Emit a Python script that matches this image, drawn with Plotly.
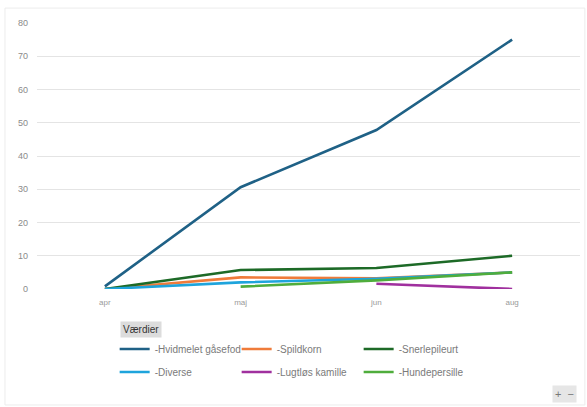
import plotly.graph_objects as go

months = ["apr", "maj", "jun", "aug"]
hvidmelet = [0.8, 30.6, 47.8, 75.0]
spildkorn = [0.0, 3.5, 3.2, 5.0]
snerlepileurt = [0.0, 5.7, 6.3, 10.0]
diverse = [0.0, 2.0, 3.1, 5.0]
lugtlos = [None, None, 1.6, 0.0]
hundepersille = [None, 0.7, 2.6, 5.0]

series = [
    ("-Hvidmelet gåsefod", hvidmelet, "#1f6186", "legend"),
    ("-Spildkorn", spildkorn, "#ef7b3a", "legend"),
    ("-Snerlepileurt", snerlepileurt, "#1d6a27", "legend"),
    ("-Diverse", diverse, "#1ea4dc", "legend2"),
    ("-Lugtløs kamille", lugtlos, "#a0309e", "legend2"),
    ("-Hundepersille", hundepersille, "#4fad3c", "legend2"),
]

fig = go.Figure()
for name, vals, col, lg in series:
    fig.add_trace(go.Scatter(x=months, y=vals, name=name, mode="lines",
                             line=dict(color=col, width=2.6), connectgaps=False,
                             legend=lg))

font = "Liberation Sans"
leg_common = dict(orientation="h", xanchor="left", yanchor="middle",
                  entrywidth=77, entrywidthmode="pixels",
                  font=dict(family=font, size=10, color="#7a7a7a"),
                  itemwidth=30, bgcolor="rgba(0,0,0,0)", borderwidth=0)
fig.update_layout(
    width=587, height=407,
    margin=dict(l=37, r=7, t=23, b=118, autoexpand=False),
    paper_bgcolor="white", plot_bgcolor="white",
    font=dict(family=font, size=9, color="#8a8a8a"),
    xaxis=dict(type="category", range=[-0.5, 3.5], showgrid=False, showline=False,
               zeroline=False, ticks="", tickfont=dict(size=8, color="#9a9a9a"),
               ticklabelstandoff=7),
    yaxis=dict(range=[0, 80], dtick=10, showgrid=True, gridcolor="#e4e4e4",
               gridwidth=1, zeroline=False, showline=False, ticks="",
               tickfont=dict(size=9, color="#8a8a8a"), ticklabelstandoff=8),
    legend=dict(x=0.143, y=(289 - 349) / 266, **leg_common),
    legend2=dict(x=0.143, y=(289 - 372) / 266, **leg_common),
    showlegend=True,
)

fig.add_shape(type="rect", xref="paper", yref="paper", x0=-0.059, x1=1.009,
              y0=-0.436, y1=1.056, line=dict(color="#ececec", width=1),
              fillcolor="rgba(0,0,0,0)", layer="below")

fig.add_annotation(xref="paper", yref="paper", x=0.152, y=-0.12, xanchor="left",
                   yanchor="top", text="Værdier", showarrow=False,
                   font=dict(family=font, size=10, color="#333333"),
                   bgcolor="#dcdcdc", borderpad=2)
fig.add_annotation(xref="paper", yref="paper", x=0.995, y=-0.43, xanchor="right",
                   yanchor="bottom", text="+  −", showarrow=False,
                   font=dict(family=font, size=11, color="#777777"),
                   bgcolor="#e6e6e6", borderpad=2)

fig.write_html("out.html", config={"displayModeBar": False},
               post_script="document.body.style.margin='0';")
